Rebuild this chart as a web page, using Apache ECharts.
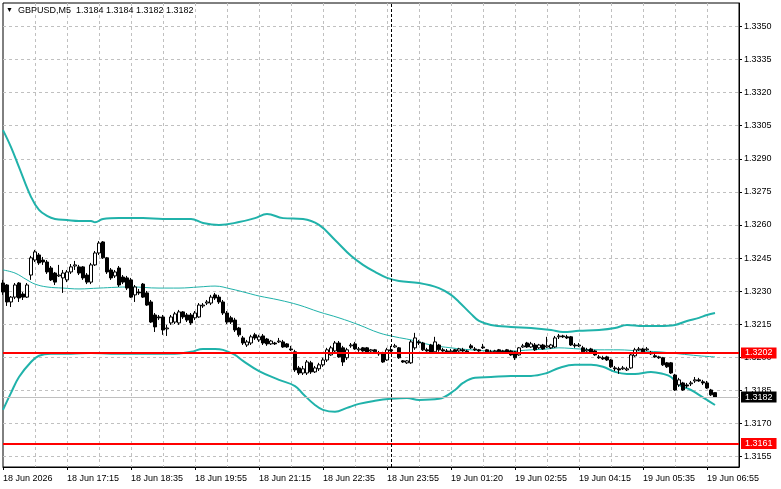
<!DOCTYPE html>
<html>
<head>
<meta charset="utf-8">
<script src="https://cdn.jsdelivr.net/npm/echarts@6/dist/echarts.min.js"></script>
<style>
  html, body { margin: 0; padding: 0; background: #fff; }
  #main { width: 781px; height: 489px; }
</style>
</head>
<body>
<div id="main"></div>
<script>
// time labels, one every 16 bars (M5)
var timeLabels = ['18 Jun 2026', '18 Jun 17:15', '18 Jun 18:35', '18 Jun 19:55', '18 Jun 21:15', '18 Jun 22:35',
                  '18 Jun 23:55', '19 Jun 01:20', '19 Jun 02:55', '19 Jun 04:15', '19 Jun 05:35', '19 Jun 06:55'];
var priceTicks = [1.3155, 1.3170, 1.3185, 1.3200, 1.3215, 1.3230, 1.3245, 1.3260, 1.3275, 1.3290, 1.3305, 1.3320, 1.3335, 1.3350];

var opens = [
  1.32337,1.32328,1.32251,1.32273,1.32337,1.32287,1.32273,1.32373,1.32441,1.32464,
  1.32441,1.32432,1.32405,1.32382,1.32369,1.32360,1.32351,1.32387,1.32414,1.32410,
  1.32410,1.32373,1.32341,1.32419,1.32473,1.32523,1.32451,1.32396,1.32369,1.32405,
  1.32364,1.32360,1.32351,1.32283,1.32296,1.32332,1.32292,1.32251,1.32192,1.32183,
  1.32183,1.32129,1.32156,1.32160,1.32156,1.32206,1.32192,1.32192,1.32179,1.32183,
  1.32233,1.32246,1.32246,1.32283,1.32273,1.32251,1.32201,1.32179,1.32169,1.32133,
  1.32088,1.32056,1.32065,1.32102,1.32079,1.32097,1.32083,1.32061,1.32065,1.32070,
  1.32070,1.32061,1.32038,1.32025,1.31952,1.31929,1.31929,1.31975,1.31934,1.31948,
  1.31966,1.31988,1.32011,1.32029,1.32065,1.32043,1.31998,1.32052,1.32061,1.32034,
  1.32043,1.32043,1.32029,1.32034,1.32020,1.32020,1.31988,1.32034,1.32047,1.32043,
  1.31984,1.31975,1.31975,1.32043,1.32070,1.32065,1.32034,1.32056,1.32025,1.32056,
  1.32034,1.32029,1.32025,1.32034,1.32029,1.32034,1.32029,1.32052,1.32038,1.32034,
  1.32047,1.32034,1.32025,1.32025,1.32034,1.32029,1.32034,1.32029,1.32025,1.32011,
  1.32047,1.32065,1.32047,1.32056,1.32043,1.32056,1.32047,1.32043,1.32047,1.32093,
  1.32097,1.32093,1.32093,1.32056,1.32052,1.32043,1.32029,1.32038,1.32029,1.32002,
  1.31998,1.32002,1.31988,1.31952,1.31948,1.31948,1.31943,1.31952,1.32007,1.32034,
  1.32038,1.32034,1.32020,1.32007,1.32002,1.31998,1.31975,1.31975,1.31920,1.31875,
  1.31884,1.31875,1.31880,1.31893,1.31898,1.31889,1.31884,1.31852,1.31840
];
var closes = [
  1.32296,1.32251,1.32273,1.32328,1.32269,1.32273,1.32328,1.32451,1.32478,1.32428,
  1.32432,1.32387,1.32351,1.32341,1.32373,1.32382,1.32387,1.32410,1.32419,1.32382,
  1.32360,1.32341,1.32419,1.32473,1.32518,1.32451,1.32387,1.32360,1.32387,1.32328,
  1.32341,1.32314,1.32273,1.32319,1.32292,1.32273,1.32237,1.32160,1.32138,1.32179,
  1.32124,1.32133,1.32183,1.32197,1.32206,1.32183,1.32169,1.32156,1.32201,1.32237,
  1.32237,1.32251,1.32273,1.32269,1.32251,1.32201,1.32160,1.32160,1.32124,1.32102,
  1.32065,1.32070,1.32093,1.32088,1.32093,1.32065,1.32061,1.32074,1.32061,1.32074,
  1.32047,1.32047,1.32034,1.31943,1.31929,1.31948,1.31979,1.31934,1.31952,1.31966,
  1.31988,1.32034,1.32043,1.32065,1.32002,1.31979,1.32034,1.32056,1.32038,1.32038,
  1.32029,1.32020,1.32034,1.32025,1.32016,1.31979,1.32034,1.32029,1.32052,1.31998,
  1.31979,1.31984,1.32070,1.32088,1.32065,1.32034,1.32029,1.32020,1.32070,1.32034,
  1.32029,1.32025,1.32029,1.32025,1.32038,1.32029,1.32025,1.32043,1.32034,1.32029,
  1.32043,1.32025,1.32020,1.32029,1.32025,1.32025,1.32020,1.32011,1.31998,1.32043,
  1.32052,1.32047,1.32061,1.32034,1.32056,1.32038,1.32052,1.32056,1.32088,1.32097,
  1.32093,1.32088,1.32056,1.32052,1.32056,1.32025,1.32034,1.32020,1.32011,1.31998,
  1.31993,1.31988,1.31957,1.31948,1.31943,1.31952,1.31948,1.32011,1.32034,1.32038,
  1.32025,1.32038,1.32016,1.32002,1.31998,1.31966,1.31957,1.31929,1.31852,1.31898,
  1.31852,1.31870,1.31884,1.31898,1.31893,1.31884,1.31861,1.31830,1.31820
];
var lows = [
  1.32283,1.32233,1.32228,1.32264,1.32251,1.32260,1.32269,1.32351,1.32432,1.32419,
  1.32419,1.32378,1.32346,1.32328,1.32364,1.32292,1.32341,1.32378,1.32396,1.32373,
  1.32351,1.32332,1.32332,1.32414,1.32464,1.32446,1.32378,1.32351,1.32360,1.32319,
  1.32332,1.32305,1.32269,1.32251,1.32283,1.32269,1.32233,1.32156,1.32115,1.32169,
  1.32102,1.32097,1.32147,1.32151,1.32147,1.32174,1.32160,1.32147,1.32169,1.32179,
  1.32224,1.32237,1.32237,1.32260,1.32242,1.32192,1.32151,1.32151,1.32115,1.32093,
  1.32056,1.32047,1.32056,1.32079,1.32070,1.32056,1.32052,1.32056,1.32056,1.32065,
  1.32043,1.32043,1.32029,1.31934,1.31920,1.31920,1.31920,1.31925,1.31929,1.31938,
  1.31957,1.31979,1.32007,1.32020,1.31998,1.31961,1.31988,1.32043,1.32034,1.32025,
  1.32025,1.32016,1.32025,1.32020,1.32007,1.31975,1.31984,1.32025,1.32043,1.31993,
  1.31975,1.31970,1.31970,1.32034,1.32056,1.32029,1.32025,1.32016,1.32020,1.32025,
  1.32025,1.32020,1.32016,1.32020,1.32025,1.32025,1.32020,1.32038,1.32029,1.32025,
  1.32038,1.32020,1.32016,1.32020,1.32020,1.32020,1.32016,1.32007,1.31988,1.32007,
  1.32043,1.32043,1.32043,1.32029,1.32038,1.32034,1.32043,1.32038,1.32043,1.32083,
  1.32088,1.32083,1.32052,1.32043,1.32047,1.32020,1.32025,1.32016,1.32007,1.31993,
  1.31988,1.31984,1.31952,1.31938,1.31925,1.31943,1.31938,1.31948,1.32002,1.32029,
  1.32020,1.32029,1.32011,1.31998,1.31993,1.31961,1.31952,1.31925,1.31848,1.31866,
  1.31848,1.31861,1.31870,1.31884,1.31889,1.31875,1.31857,1.31825,1.31820
];
var highs = [
  1.32351,1.32332,1.32278,1.32337,1.32341,1.32296,1.32337,1.32460,1.32487,1.32473,
  1.32455,1.32441,1.32414,1.32387,1.32419,1.32396,1.32396,1.32423,1.32437,1.32419,
  1.32414,1.32382,1.32428,1.32482,1.32527,1.32527,1.32455,1.32405,1.32396,1.32414,
  1.32373,1.32369,1.32360,1.32328,1.32310,1.32337,1.32301,1.32260,1.32201,1.32192,
  1.32192,1.32147,1.32192,1.32206,1.32215,1.32210,1.32201,1.32201,1.32210,1.32246,
  1.32246,1.32260,1.32283,1.32292,1.32283,1.32260,1.32210,1.32188,1.32179,1.32138,
  1.32097,1.32079,1.32102,1.32111,1.32102,1.32106,1.32088,1.32079,1.32070,1.32088,
  1.32079,1.32065,1.32052,1.32034,1.31961,1.31961,1.31988,1.31984,1.31961,1.31975,
  1.31998,1.32043,1.32052,1.32074,1.32074,1.32052,1.32043,1.32065,1.32070,1.32047,
  1.32047,1.32047,1.32038,1.32038,1.32029,1.32025,1.32043,1.32052,1.32061,1.32047,
  1.31988,1.31988,1.32079,1.32111,1.32079,1.32070,1.32043,1.32061,1.32093,1.32061,
  1.32043,1.32038,1.32038,1.32038,1.32043,1.32043,1.32034,1.32061,1.32047,1.32038,
  1.32061,1.32038,1.32034,1.32034,1.32038,1.32034,1.32038,1.32034,1.32029,1.32047,
  1.32061,1.32070,1.32070,1.32065,1.32061,1.32061,1.32093,1.32061,1.32097,1.32106,
  1.32102,1.32102,1.32097,1.32065,1.32065,1.32052,1.32043,1.32043,1.32034,1.32011,
  1.32007,1.32007,1.31993,1.31961,1.31957,1.31961,1.31957,1.32020,1.32043,1.32047,
  1.32043,1.32047,1.32029,1.32016,1.32007,1.32002,1.31979,1.31979,1.31925,1.31907,
  1.31889,1.31884,1.31893,1.31911,1.31907,1.31898,1.31893,1.31857,1.31840
];

// bollinger bands: [bar index, price]
var bbUpper = [[0,1.33030],[2,1.32953],[4,1.32862],[7,1.32727],[9,1.32668],[11,1.32641],[13,1.32627],[16,1.32622],
  [19,1.32618],[22,1.32618],[23,1.32612],[25,1.32627],[29,1.32631],[35,1.32631],[40,1.32627],[47,1.32627],
  [50,1.32609],[54,1.32600],[59,1.32613],[63,1.32631],[66,1.32650],[70,1.32631],[75,1.32627],[79,1.32600],
  [83,1.32532],[87,1.32460],[90,1.32419],[93,1.32387],[96,1.32360],[99,1.32346],[104,1.32337],[109,1.32314],
  [112,1.32283],[114,1.32251],[117,1.32197],[119,1.32165],[122,1.32147],[127,1.32138],[132,1.32133],[137,1.32124],
  [140,1.32115],[144,1.32120],[149,1.32124],[153,1.32133],[156,1.32147],[160,1.32142],[164,1.32142],[168,1.32147],
  [171,1.32165],[174,1.32179],[176,1.32192],[178,1.32201]];
var bbMiddle = [[0,1.32396],[3,1.32382],[6,1.32351],[8,1.32332],[11,1.32319],[15,1.32314],[19,1.32310],[24,1.32314],
  [32,1.32319],[39,1.32314],[44,1.32314],[49,1.32319],[53,1.32323],[57,1.32310],[61,1.32292],[64,1.32278],
  [69,1.32260],[74,1.32237],[79,1.32206],[84,1.32179],[89,1.32147],[94,1.32111],[98,1.32093],[102,1.32079],
  [107,1.32056],[112,1.32043],[117,1.32034],[122,1.32029],[127,1.32029],[132,1.32034],[136,1.32038],[139,1.32043],
  [144,1.32038],[149,1.32034],[154,1.32034],[159,1.32029],[164,1.32025],[169,1.32016],[174,1.32007],[178,1.32002]];
var bbLower = [[0,1.31762],[2,1.31839],[4,1.31911],[7,1.31979],[9,1.32007],[12,1.32016],[17,1.32016],[22,1.32020],
  [27,1.32016],[37,1.32016],[42,1.32016],[47,1.32025],[50,1.32038],[53,1.32038],[55,1.32034],[58,1.32011],
  [60,1.31984],[64,1.31938],[69,1.31898],[73,1.31870],[75,1.31834],[78,1.31784],[80,1.31762],[83,1.31753],
  [86,1.31771],[89,1.31789],[93,1.31803],[97,1.31812],[101,1.31816],[104,1.31807],[109,1.31812],[113,1.31852],
  [115,1.31884],[118,1.31907],[122,1.31911],[127,1.31916],[132,1.31916],[136,1.31929],[139,1.31952],[143,1.31966],
  [147,1.31966],[150,1.31957],[153,1.31934],[156,1.31925],[158,1.31925],[162,1.31934],[165,1.31925],[167,1.31911],
  [169,1.31875],[172,1.31852],[174,1.31830],[176,1.31807],[178,1.31784]];

var levelHigh = 1.3202;
var levelLow = 1.3161;
var daySeparator = 97;

var FONT = '"Liberation Sans", Arial, sans-serif';
var TEAL = '#20b2aa';

var slots = [];
for (var i = 0; i < 185; i++) slots.push(String(i));
var candles = opens.map(function (o, i) { return [o, closes[i], lows[i], highs[i]]; });
var lastClose = closes[closes.length - 1];

// horizontal price line with its coloured tag on the price scale
function priceLine(value, color, width, tagColor) {
    return {
        yAxis: value,
        lineStyle: { color: color, width: width, type: 'solid' },
        label: {
            show: true, position: 'end', distance: 2,
            formatter: value.toFixed(4),
            backgroundColor: tagColor, color: '#fff', fontFamily: FONT, fontSize: 9,
            lineHeight: 10, padding: [1, 4, 0, 4]
        }
    };
}

var myChart = echarts.init(document.getElementById('main'));
var option = {
    animation: false,
    backgroundColor: '#fff',
    title: {
        text: '{t|▼}  GBPUSD,M5  1.3184 1.3184 1.3182 1.3182',
        left: 6, top: 6, padding: 0,
        textStyle: { fontFamily: FONT, fontSize: 9, fontWeight: 'normal', color: '#000',
                     rich: { t: { fontSize: 7, color: '#000' } } }
    },
    grid: { left: 3, right: 42, top: 3, bottom: 22, show: true, borderColor: '#000', borderWidth: 1 },
    xAxis: {
        type: 'category', data: slots, boundaryGap: false,
        axisLine: { show: true, lineStyle: { color: '#000' } },
        axisTick: { show: true, length: 3, interval: function (i) { return i % 16 === 0; }, lineStyle: { color: '#000' } },
        axisLabel: {
            interval: function (i) { return i % 16 === 0 && i / 16 < timeLabels.length; },
            formatter: function (v, i) { return timeLabels[i / 16] || ''; },
            align: 'left', margin: 7, color: '#000', fontFamily: FONT, fontSize: 9
        },
        splitLine: { show: true, interval: function (i) { return i % 8 === 0 && i > 0; },
                     lineStyle: { color: '#c0c0c0', type: [3, 3] } }
    },
    yAxis: {
        type: 'value', position: 'right', min: 1.31503, max: 1.33606,
        axisLine: { show: true, lineStyle: { color: '#000' } },
        axisTick: { show: true, length: 3, customValues: priceTicks, lineStyle: { color: '#000' } },
        axisLabel: { customValues: priceTicks, margin: 5, color: '#000', fontFamily: FONT, fontSize: 9,
                     formatter: function (v) { return v.toFixed(4); } },
        splitLine: { show: true, lineStyle: { color: '#c0c0c0', type: [3, 3] } }
    },
    series: [
        { type: 'line', data: bbUpper, smooth: 0.4, showSymbol: false, lineStyle: { color: TEAL, width: 2 }, z: 1 },
        {
            type: 'line', data: bbMiddle, smooth: 0.4, showSymbol: false, lineStyle: { color: TEAL, width: 1 }, z: 1,
            markLine: {
                silent: true, symbol: ['none', 'none'], animation: false, precision: 5,
                data: [
                    priceLine(lastClose, '#c0c0c0', 1, '#000'),
                    priceLine(levelHigh, '#ff0000', 2, '#ff0000'),
                    priceLine(levelLow, '#ff0000', 2, '#ff0000'),
                    { xAxis: String(daySeparator), lineStyle: { color: '#000', width: 1, type: [3, 2] }, label: { show: false } }
                ]
            }
        },
        { type: 'line', data: bbLower, smooth: 0.4, showSymbol: false, lineStyle: { color: TEAL, width: 2 }, z: 1 },
        {
            type: 'candlestick', data: candles, barWidth: 3, z: 3,
            itemStyle: { color: '#fff', color0: '#000', borderColor: '#000', borderColor0: '#000', borderWidth: 1 }
        }
    ]
};
myChart.setOption(option);
</script>
</body>
</html>
